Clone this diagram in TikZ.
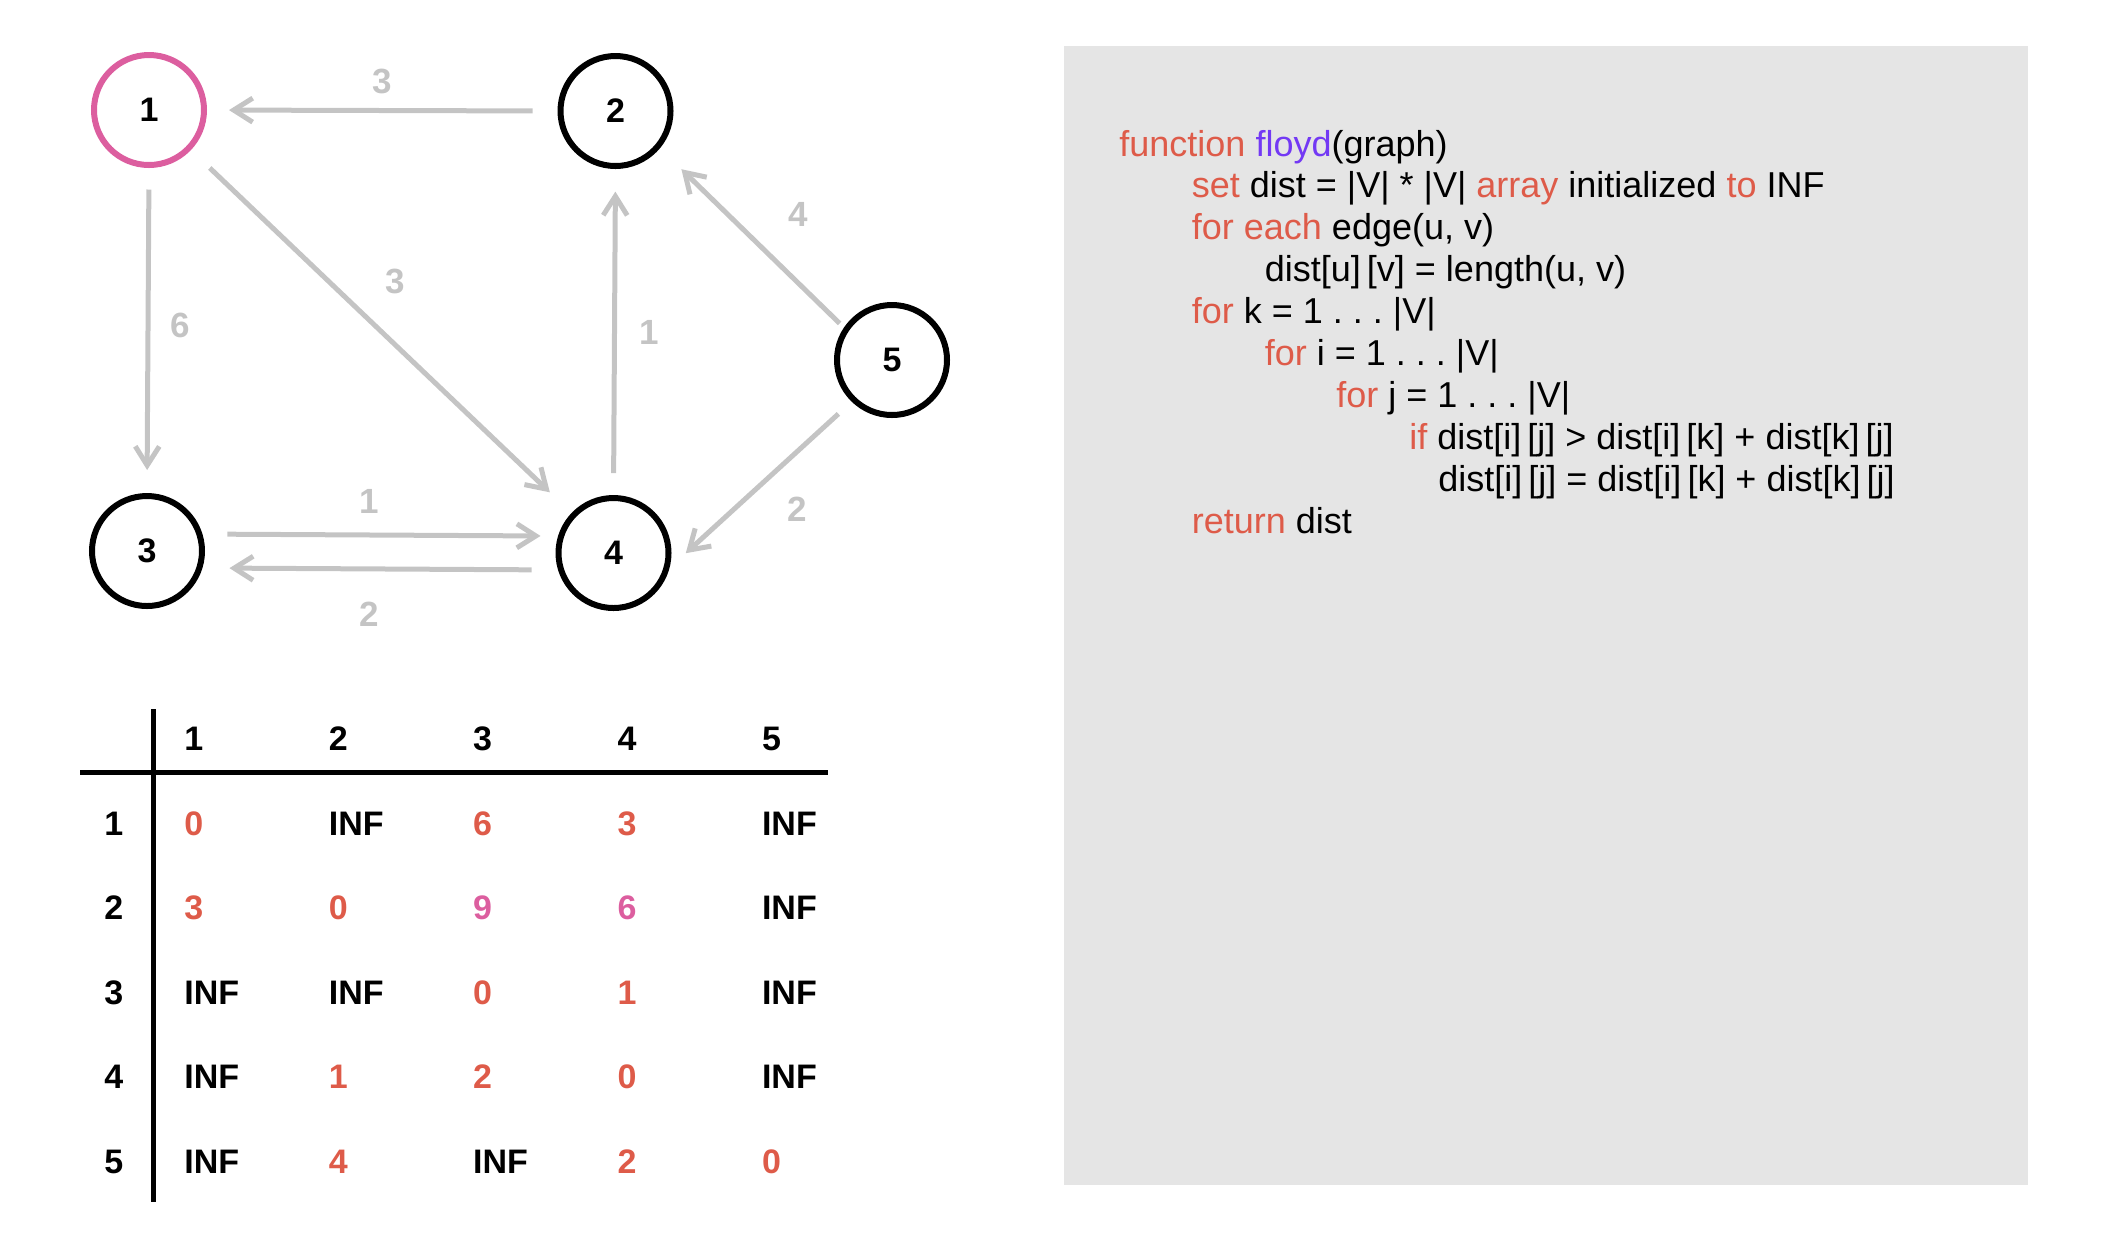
\documentclass[tikz,border=0pt]{standalone}
\usepackage{fontspec}
\setmainfont{Liberation Sans}
\usetikzlibrary{positioning,arrows.meta,matrix}
\frenchspacing
\definecolor{upd}{RGB}{222,91,73}
\definecolor{via}{RGB}{220,94,159}
\definecolor{fncol}{RGB}{115,57,244}
\definecolor{codebg}{RGB}{229,229,229}
\definecolor{edgegray}{RGB}{196,196,196}
\newcommand{\kwd}[1]{\textcolor{upd}{#1}}
\newcommand{\fnname}[1]{\textcolor{fncol}{#1}}
\tikzset{
vtx/.style={
  circle,
  draw,
  line width=3pt,
  minimum size=55pt,
  inner sep=0pt,
  font=\fontsize{17}{20}\selectfont\bfseries
},
link/.style={
  draw=edgegray,
  line width=2.5pt,
  -{Straight Barb[length=9.5pt,width=12pt]}
},
wlabel/.style={
  text=edgegray,
  inner sep=0pt,
  font=\fontsize{17.5}{20}\selectfont\bfseries
},
codeline/.style={
  anchor=base west,
  inner sep=0pt,
  font=\fontsize{18}{21}\selectfont
},
distmat/.style={
  matrix of nodes,
  anchor=north west,
  inner sep=0pt,
  column sep=0pt,
  row sep=30.05pt,
  nodes={text width=72.2pt, align=left, inner sep=0pt,
         text height=12.2pt, text depth=0pt,
         font=\fontsize{17}{20}\selectfont\bfseries},
  column 1/.style={nodes={text width=40pt}}
}
}

\begin{document}
\begin{tikzpicture}[x=0.5pt, y=-0.5pt]
  \useasboundingbox (0,0) rectangle (2108,1244);

  % graph
  \node[vtx, draw=via] (n1) at (149,110) {1};
  \node[vtx] (n2) at (615.5,111) {2};
  \node[vtx] (n3) at (147,551) {3};
  \node[vtx] (n4) at (613.5,553) {4};
  \node[vtx] (n5) at (892,360) {5};

  \draw[link, shorten <=12.5pt, shorten >=11pt]
    (n2.west) -- node[wlabel, above=7pt] {3} (n1.east);
  \draw[link, shorten <=10.75pt, shorten >=11.5pt]
    (n1.south) -- node[wlabel, right=10pt, yshift=2.5pt] {6} (n3.north);
  \draw[link, shorten <=13pt, shorten >=15pt]
    (n1) -- node[wlabel, xshift=6.75pt, yshift=25pt] {3} (n4);
  \draw[link, shorten <=11pt, shorten >=11.3pt]
    (n4.north) -- node[wlabel, xshift=17.25pt] {1} (n2.south);
  \draw[link, shorten <=3pt, shorten >=15pt]
    (n5.146) -- node[wlabel, xshift=23.15pt, yshift=11.75pt] {4} (n2.-40);
  \draw[link, shorten <=9pt, shorten >=11pt]
    (n5.-134) -- node[wlabel, xshift=18.5pt, yshift=-12pt] {2} (n4.-15);
  \draw[link, shorten <=12.5pt, shorten >=8.75pt]
    (n3.17) -- node[wlabel, xshift=-5.5pt, yshift=16.7pt] {1} (n4.163);
  \draw[link, shorten <=13.25pt, shorten >=13.5pt]
    (n4.-163) -- node[wlabel, xshift=-5.75pt, yshift=-22.5pt] {2} (n3.-17);

  % distance table
  \matrix[distmat] (dist) at (104,726) {
        & 1 & 2 & 3 & 4 & 5 \\
      1 & |[upd]| 0 & INF & |[upd]| 6 & |[upd]| 3 & INF \\
      2 & |[upd]| 3 & |[upd]| 0 & |[via]| 9 & |[via]| 6 & INF \\
      3 & INF & INF & |[upd]| 0 & |[upd]| 1 & INF \\
      4 & INF & |[upd]| 1 & |[upd]| 2 & |[upd]| 0 & INF \\
      5 & INF & |[upd]| 4 & INF & |[upd]| 2 & |[upd]| 0 \\
  };
  \draw[line width=2.5pt] (153,709) -- (153,1202);
  \draw[line width=2.5pt] (80,772) -- (828,772);

  % pseudocode
  \fill[codebg] (1064,46) rectangle (2028,1185);
  \node[codeline] (c1) at (1119,156) {\kwd{function} \fnname{floyd}(graph)};
  \node[codeline] (c2) at (1191.5,197.95) {\kwd{set} dist = |V| * |V| \kwd{array} initialized \kwd{to} INF};
  \node[codeline] (c3) at (1191.5,239.9) {\kwd{for each} edge(u, v)};
  \node[codeline] (c4) at (1264.5,281.85) {dist[u]\,[v] = length(u, v)};
  \node[codeline] (c5) at (1191.5,323.8) {\kwd{for} k = 1 . . . |V|};
  \node[codeline] (c6) at (1264.5,365.75) {\kwd{for} i = 1 . . . |V|};
  \node[codeline] (c7) at (1336,407.7) {\kwd{for} j = 1 . . . |V|};
  \node[codeline] (c8) at (1409,449.65) {\kwd{if} dist[i]\,[j] > dist[i]\,[k] + dist[k]\,[j]};
  \node[codeline] (c9) at (1438,491.6) {dist[i]\,[j] = dist[i]\,[k] + dist[k]\,[j]};
  \node[codeline] (c10) at (1191.5,533.55) {\kwd{return} dist};
\end{tikzpicture}
\end{document}
